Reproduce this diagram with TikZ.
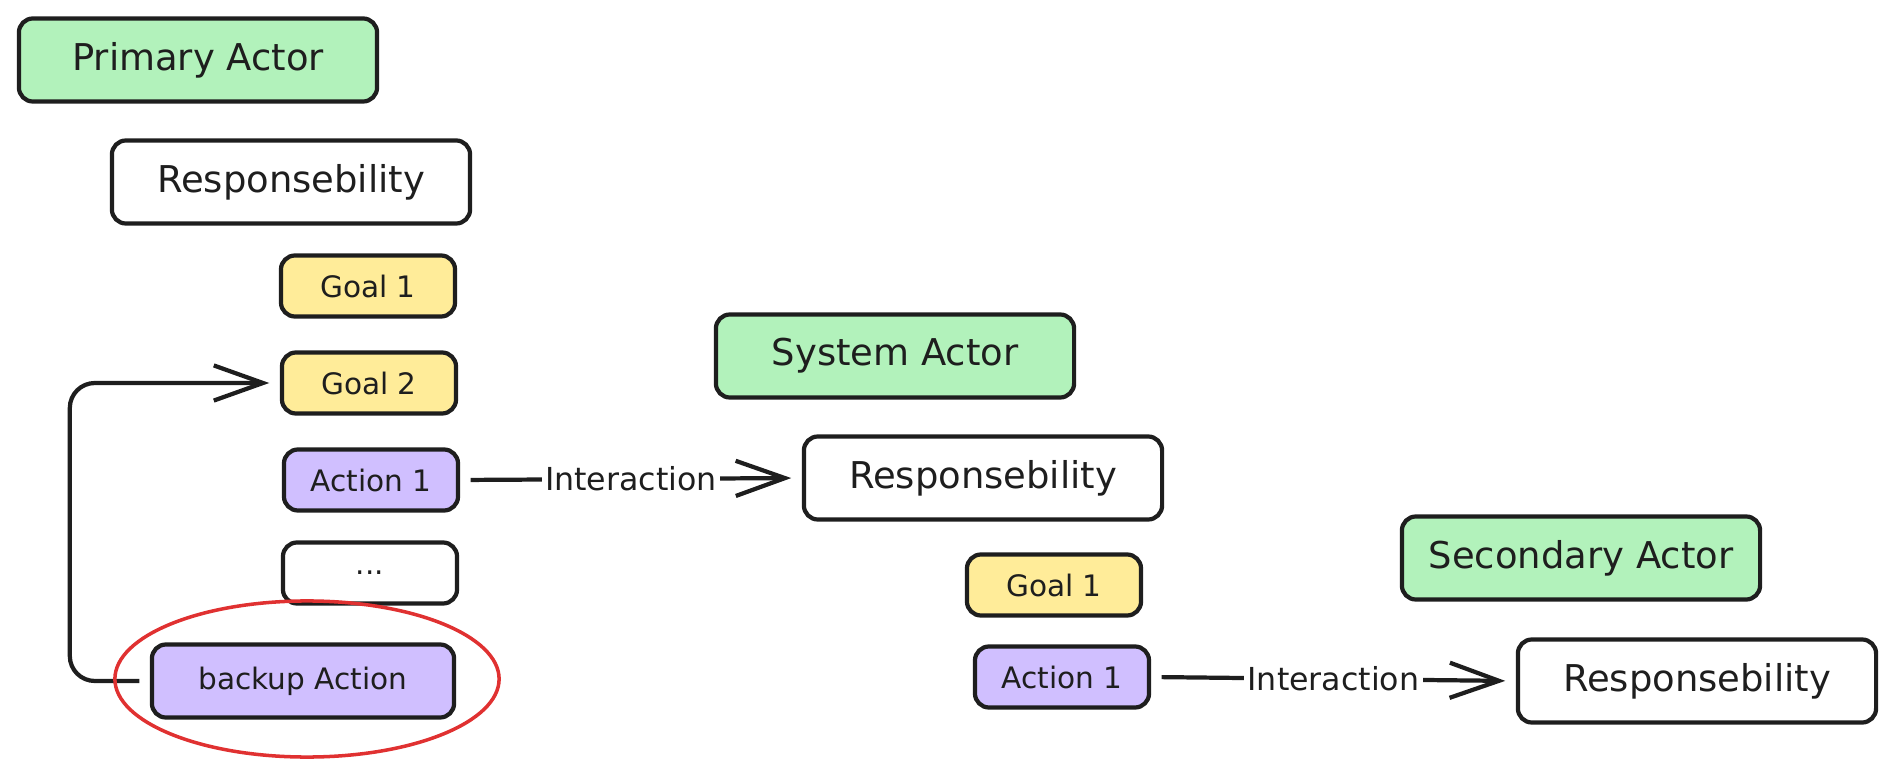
\documentclass[tikz,border=0pt]{standalone}
\usepackage{fontspec}
\setmainfont{DejaVu Sans}
\usetikzlibrary{arrows.meta,shapes.geometric}

\definecolor{ink}{HTML}{1E1E1E}
\definecolor{actorgreen}{HTML}{B2F2BB}
\definecolor{goalyellow}{HTML}{FFEC99}
\definecolor{actionpurple}{HTML}{D0BFFF}
\definecolor{markred}{HTML}{E03131}

\tikzset{
	box/.style={draw=ink, line width=1.2pt, rounded corners=4pt, text=ink},
	bigbox/.style={box, minimum width=3.58cm, minimum height=0.83cm, font=\fontsize{10.5}{12}\selectfont},
	actor/.style={bigbox, fill=actorgreen},
	resp/.style={bigbox, fill=white},
	smallbox/.style={box, minimum width=1.74cm, minimum height=0.61cm, font=\fontsize{8.4}{10}\selectfont},
	goal/.style={smallbox, fill=goalyellow},
	act/.style={smallbox, fill=actionpurple},
	arr/.style={draw=ink, line width=1.2pt, -{Straight Barb[length=14pt,width=10pt]}, shorten <=3pt, shorten >=3pt},
	ilabel/.style={fill=white, inner sep=1pt, text=ink, font=\fontsize{9}{10}\selectfont},
	ring/.style={draw=markred, line width=1pt, ellipse, minimum width=3.84cm, minimum height=1.56cm}
}

\begin{document}
\begin{tikzpicture}[x=0.01cm, y=-0.01cm]
		\useasboundingbox (0, 0) rectangle (1890, 776);

		% primary actor
		\node[actor] (prim) at(198, 60){Primary Actor};
		\node[resp] (resp1) at(291, 182){Responsebility};
			\node[goal] (goal1) at(368, 286){Goal 1};
			\node[goal] (goal2) at(369, 383){Goal 2};
			\node[act] (act1) at(371, 480){Action 1};
			\node[smallbox, fill=white] (more) at(370, 573){...};
			\node[act, minimum width=3.02cm, minimum height=0.73cm] (backup) at(303, 681){backup Action};

		% system actor
		\node[actor] (sys) at(895, 356){System Actor};
		\node[resp] (resp2) at(983, 478){Responsebility};
			\node[goal] (goal3) at(1054, 585){Goal 1};
			\node[act] (act2) at(1062, 677){Action 1};

		% secondary actor
		\node[actor] (sec) at(1581, 558){Secondary Actor};
		\node[resp] (resp3) at(1697, 681){Responsebility};

		%%%%%%%%%%%%%%%%%%%%%%%%%%%%
		\draw[arr] (act1.east) -- node[ilabel]{Interaction} (resp2.west);
		\draw[arr] (act2.east) -- node[ilabel]{Interaction} (resp3.west);
		\draw[arr, rounded corners=0.25cm] (backup.west) -- ++(-80, 0) |- (goal2.west);

		\node[ring] (mark) at(307, 679){};
\end{tikzpicture}
\end{document}
